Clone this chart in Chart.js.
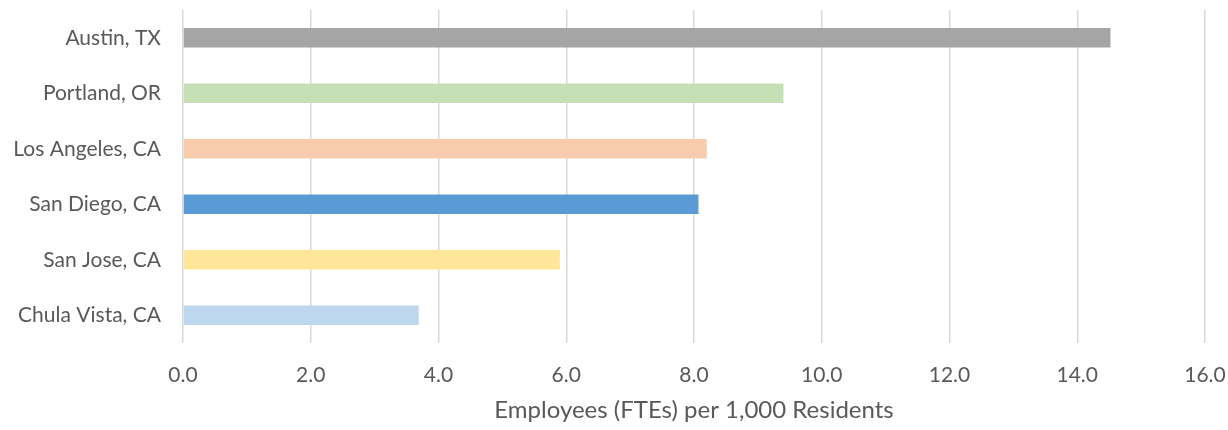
<!DOCTYPE html>
<html>
<head>
<meta charset="utf-8">
<script src="https://cdn.jsdelivr.net/npm/chart.js@4"></script>
<style>
  html, body { margin: 0; padding: 0; background: #fff; }
  #wrap { width: 1228px; height: 430px; }
</style>
</head>
<body>
<div id="wrap"><canvas id="chart" width="1228" height="430"></canvas></div>
<script>
// values
const cities = ['Austin, TX', 'Portland, OR', 'Los Angeles, CA', 'San Diego, CA', 'San Jose, CA', 'Chula Vista, CA'];
const ftesPer1000 = [14.52, 9.40, 8.20, 8.07, 5.90, 3.69];
const barColors = ['#A5A5A5', '#C5E0B4', '#F8CBAD', '#5B9BD5', '#FFE699', '#BDD7EE'];
const xTicks = [0, 2, 4, 6, 8, 10, 12, 14, 16];
const xTitle = 'Employees (FTEs) per 1,000 Residents';

const textColor = '#595959';
const fontFamily = 'Lato, "Open Sans", sans-serif';

// drop the extra padding Chart.js reserves for edge labels, layout padding does the job
function noEdgePadding(scale) {
    scale.paddingTop = 0;
    scale.paddingBottom = 0;
    scale.paddingLeft = 0;
    scale.paddingRight = 0;
}

const ctx = document.getElementById('chart').getContext('2d');
new Chart(ctx, {
    type: 'bar',
    data: {
        labels: cities,
        datasets: [{
            data: ftesPer1000,
            backgroundColor: barColors,
            borderWidth: 0,
            categoryPercentage: 1.0,
            barPercentage: 0.355
        }]
    },
    options: {
        indexAxis: 'y',
        responsive: false,
        animation: false,
        layout: { padding: { top: 10, right: 23, left: 0, bottom: 0 } },
        plugins: {
            legend: { display: false },
            tooltip: { enabled: false }
        },
        scales: {
            x: {
                min: xTicks[0],
                max: xTicks[xTicks.length - 1],
                afterBuildTicks: (scale) => { scale.ticks = xTicks.map(v => ({ value: v })); },
                afterFit: (scale) => { scale.height = 87; noEdgePadding(scale); },
                ticks: {
                    color: textColor,
                    font: { family: fontFamily, size: 21 },
                    padding: 20,
                    maxRotation: 0,
                    callback: (v) => Number(v).toFixed(1)
                },
                grid: { color: '#D9D9D9', lineWidth: 1.5, drawTicks: false },
                border: { display: false },
                title: {
                    display: true,
                    text: xTitle,
                    color: textColor,
                    font: { family: fontFamily, size: 24 },
                    padding: { top: 0, bottom: 5 }
                }
            },
            y: {
                afterFit: (scale) => { scale.width = 183; noEdgePadding(scale); },
                ticks: {
                    color: textColor,
                    font: { family: fontFamily, size: 21 },
                    padding: 22
                },
                grid: { display: false, drawTicks: false },
                border: { display: false }
            }
        }
    }
});
</script>
</body>
</html>
